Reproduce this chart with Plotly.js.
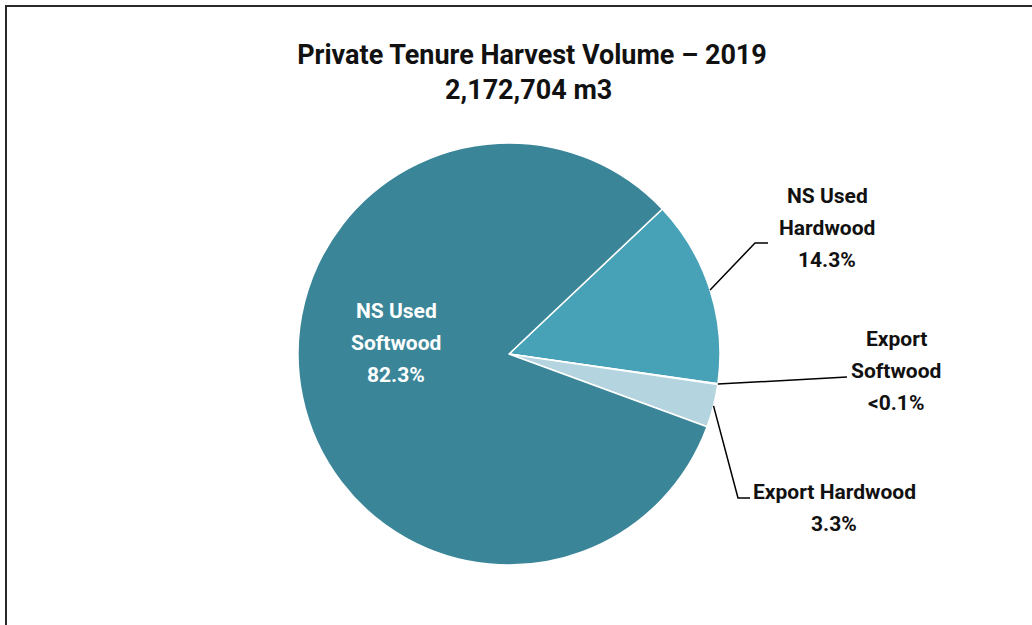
<!DOCTYPE html>
<html>
<head>
<meta charset="utf-8">
<script src="https://cdn.plot.ly/plotly-3.0.1.min.js"></script>
<style>
html,body{margin:0;padding:0;background:#fff;overflow:hidden;}
#chart{width:1032px;height:625px;position:absolute;left:0;top:0;}
#frame{position:absolute;left:5px;top:5px;width:1040px;height:640px;border-left:2px solid #2a2a2a;border-top:2px solid #2a2a2a;pointer-events:none;}
</style>
</head>
<body>
<div id="chart"></div>
<div id="frame"></div>
<script>
// ---- data ----
const categories = ["NS Used Hardwood", "Export Softwood", "Export Hardwood", "NS Used Softwood"];
const shares = [14.3, 0.05, 3.3, 82.3];
const shareLabels = ["14.3%", "<0.1%", "3.3%", "82.3%"];
const labelLines = [["NS Used", "Hardwood"], ["Export", "Softwood"], ["Export Hardwood"], ["NS Used", "Softwood"]];
const colors = ["#47A2B8", "#B4D4DF", "#B4D4DF", "#3A8698"];
const titleText = "Private Tenure Harvest Volume \u2013 2019";
const subtitleText = "2,172,704 m3";

// ---- layout geometry ----
const W = 1032, H = 625;
const M = {l: 298, r: 312, t: 143, b: 60};
const PW = W - M.l - M.r, PH = H - M.t - M.b;
const px = x => (x - M.l) / PW;
const py = y => 1 - (y - M.t) / PH;
const rotation = 46.6;

// slice mid angles from data (clockwise from 12 o'clock)
const total = shares.reduce((a, b) => a + b, 0);
const mids = [];
let acc = rotation;
shares.forEach(v => { const a = v / total * 360; mids.push(acc + a / 2); acc += a; });
const edge = i => {
  const a = mids[i] * Math.PI / 180;
  return [0.5 + 0.5 * Math.sin(a), 0.5 + 0.5 * Math.cos(a)];
};

const labelFont = {family: "Roboto, sans-serif", size: 21, color: "#111", weight: "bold"};
const labelPos = [[827, 228], [896, 371], [834, 508], [396, 343]];
const lineGap = 32;

const annotations = [];
categories.forEach((c, i) => {
  const lines = labelLines[i].concat([shareLabels[i]]);
  const n = lines.length;
  lines.forEach((t, j) => {
    annotations.push({
      xref: "paper", yref: "paper",
      x: px(labelPos[i][0]), y: py(labelPos[i][1] + (j - (n - 1) / 2) * lineGap),
      xanchor: "center", yanchor: "middle",
      text: t, showarrow: false, align: "center",
      font: i === 3 ? Object.assign({}, labelFont, {color: "#ffffff"}) : labelFont
    });
  });
});
annotations.push({
  xref: "paper", yref: "paper", x: px(528), y: py(90),
  xanchor: "center", yanchor: "middle", showarrow: false,
  text: subtitleText,
  font: {family: "Roboto, sans-serif", size: 27, color: "#111", weight: "bold"}
});

// leader lines (elbows in pixels, start on slice edge)
const elbows = [
  [[755, 243], [768, 243]],
  [[847, 377]],
  [[738, 498], [750, 498]]
];
const shapes = elbows.map((pts, i) => {
  const e = edge(i);
  let path = "M " + e[0] + "," + e[1];
  pts.forEach(p => { path += " L " + px(p[0]) + "," + py(p[1]); });
  return {type: "path", xref: "paper", yref: "paper", path: path, line: {color: "#000", width: 1.5}};
});

const trace = {
  type: "pie",
  labels: categories,
  values: shares,
  sort: false,
  direction: "clockwise",
  rotation: rotation,
  textinfo: "none",
  hoverinfo: "label+percent",
  marker: {colors: colors, line: {color: "#ffffff", width: 1.5}},
  domain: {x: [0, 1], y: [0, 1]}
};

const layout = {
  width: W, height: H,
  margin: M,
  paper_bgcolor: "#ffffff",
  showlegend: false,
  title: {
    text: titleText,
    xref: "paper", x: px(532), xanchor: "center",
    yref: "container", y: 1 - 55 / H, yanchor: "middle",
    font: {family: "Roboto, sans-serif", size: 27, color: "#111", weight: "bold"}
  },
  annotations: annotations,
  shapes: shapes
};

Plotly.newPlot("chart", [trace], layout, {displayModeBar: false, staticPlot: true});
</script>
</body>
</html>
